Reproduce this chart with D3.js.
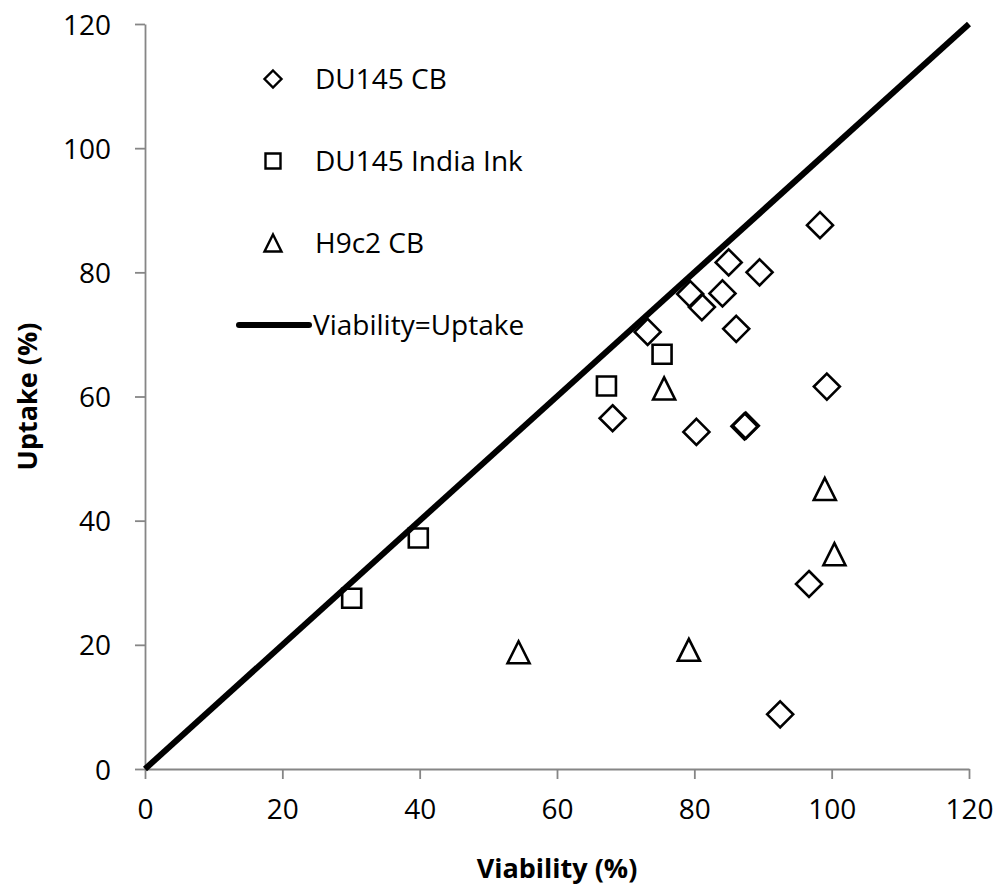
<!DOCTYPE html>
<html>
<head>
<meta charset="utf-8">
<script src="https://cdn.jsdelivr.net/npm/d3@7"></script>
<style>
  html, body { margin: 0; padding: 0; background: #fff; }
  svg { display: block; font-family: "Open Sans", Lato, sans-serif; }
</style>
</head>
<body>
<div id="chart"></div>
<script>
// Series data (viability %, uptake %)
const du145CbX = [98.3, 85.0, 89.5, 79.4, 81.1, 84.1, 86.1, 73.2, 68.1, 99.3, 80.3, 87.3, 87.5, 96.7, 92.5];
const du145CbY = [87.6, 81.6, 80.0, 76.5, 74.4, 76.6, 70.9, 70.4, 56.5, 61.6, 54.3, 55.2, 55.3, 29.8, 8.8];

const du145InkX = [30.1, 39.8, 67.2, 75.3];
const du145InkY = [27.5, 37.2, 61.7, 66.8];

const h9c2CbX = [75.6, 99.0, 100.4, 54.4, 79.2];
const h9c2CbY = [61.3, 45.1, 34.6, 18.8, 19.2];

const identityLine = [0, 120];
const xTicks = [0, 20, 40, 60, 80, 100, 120];
const yTicks = [0, 20, 40, 60, 80, 100, 120];

const seriesNames = ['DU145 CB', 'DU145 India Ink', 'H9c2 CB'];
const lineName = 'Viability=Uptake';

const width = 1003, height = 888;
const margin = { top: 24, right: 34, bottom: 119, left: 145 };

const svg = d3.select('#chart').append('svg')
    .attr('width', width)
    .attr('height', height);

const x = d3.scaleLinear().domain([0, 120]).range([margin.left, width - margin.right]);
const y = d3.scaleLinear().domain([0, 120]).range([height - margin.bottom, margin.top]);

const AXIS = '#868686';
const FONT = 28;

// Custom marker shapes
const diamond = {
    draw(ctx, size) {
        const r = Math.sqrt(size) / 2;
        ctx.moveTo(0, -r); ctx.lineTo(r, 0); ctx.lineTo(0, r); ctx.lineTo(-r, 0); ctx.closePath();
    }
};
const square = {
    draw(ctx, size) {
        const h = Math.sqrt(size) / 2;
        ctx.rect(-h, -h, 2 * h, 2 * h);
    }
};
const triangle = {
    draw(ctx, size) {
        const h = Math.sqrt(size) / 2;
        ctx.moveTo(0, -h); ctx.lineTo(h, h); ctx.lineTo(-h, h); ctx.closePath();
    }
};

// Axes
const xAxis = svg.append('g')
    .attr('transform', `translate(0,${y(0)})`)
    .call(d3.axisBottom(x).tickValues(xTicks).tickSize(10).tickPadding(12).tickSizeOuter(0));

const yAxis = svg.append('g')
    .attr('transform', `translate(${x(0)},0)`)
    .call(d3.axisLeft(y).tickValues(yTicks).tickSize(10).tickPadding(24).tickSizeOuter(0));

[xAxis, yAxis].forEach(g => {
    g.selectAll('.domain, .tick line').attr('stroke', AXIS).attr('stroke-width', 1.8);
    g.selectAll('text').attr('fill', '#000').style('font-size', FONT + 'px').style('font-family', '"Open Sans", sans-serif');
});
xAxis.selectAll('text').attr('dy', '1.0em');
yAxis.selectAll('text').attr('dy', '0.36em');

// Axis titles
svg.append('text')
    .attr('x', (x(0) + x(120)) / 2)
    .attr('y', 878)
    .attr('text-anchor', 'middle')
    .style('font-size', (FONT - 1) + 'px')
    .style('font-weight', 'bold')
    .text('Viability (%)');

svg.append('text')
    .attr('transform', `translate(37,${(y(0) + y(120)) / 2}) rotate(-90)`)
    .attr('text-anchor', 'middle')
    .style('font-size', (FONT - 1) + 'px')
    .style('font-weight', 'bold')
    .text('Uptake (%)');

// Identity line
svg.append('line')
    .attr('x1', x(identityLine[0])).attr('y1', y(identityLine[0]))
    .attr('x2', x(identityLine[1])).attr('y2', y(identityLine[1]))
    .attr('stroke', '#000')
    .attr('stroke-width', 6);

// Markers
function drawSeries(xs, ys, type, size) {
    const pts = xs.map((v, i) => [v, ys[i]]);
    svg.append('g').selectAll('path')
        .data(pts)
        .join('path')
        .attr('d', d3.symbol().type(type).size(size))
        .attr('transform', d => `translate(${x(d[0])},${y(d[1])})`)
        .attr('fill', 'none')
        .attr('stroke', '#000')
        .attr('stroke-width', 2.6);
}

drawSeries(du145CbX, du145CbY, diamond, 26 * 26);
drawSeries(du145InkX, du145InkY, square, 19 * 19);
drawSeries(h9c2CbX, h9c2CbY, triangle, 22 * 22);

// Legend
const legend = svg.append('g');
const legendTypes = [[diamond, 17 * 17], [square, 15 * 15], [triangle, 17 * 17]];
const rowY = [79, 161, 243, 325];

seriesNames.forEach((name, i) => {
    legend.append('path')
        .attr('d', d3.symbol().type(legendTypes[i][0]).size(legendTypes[i][1]))
        .attr('transform', `translate(273,${rowY[i]})`)
        .attr('fill', 'none')
        .attr('stroke', '#000')
        .attr('stroke-width', 2.4);
    legend.append('text')
        .attr('x', 315)
        .attr('y', rowY[i])
        .attr('dy', '0.36em')
        .style('font-size', FONT + 'px')
        .text(name);
});

legend.append('line')
    .attr('x1', 239).attr('x2', 309)
    .attr('y1', rowY[3]).attr('y2', rowY[3])
    .attr('stroke', '#000')
    .attr('stroke-width', 6)
    .attr('stroke-linecap', 'round');
legend.append('text')
    .attr('x', 313)
    .attr('y', rowY[3])
    .attr('dy', '0.36em')
    .style('font-size', FONT + 'px')
    .text(lineName);
</script>
</body>
</html>
